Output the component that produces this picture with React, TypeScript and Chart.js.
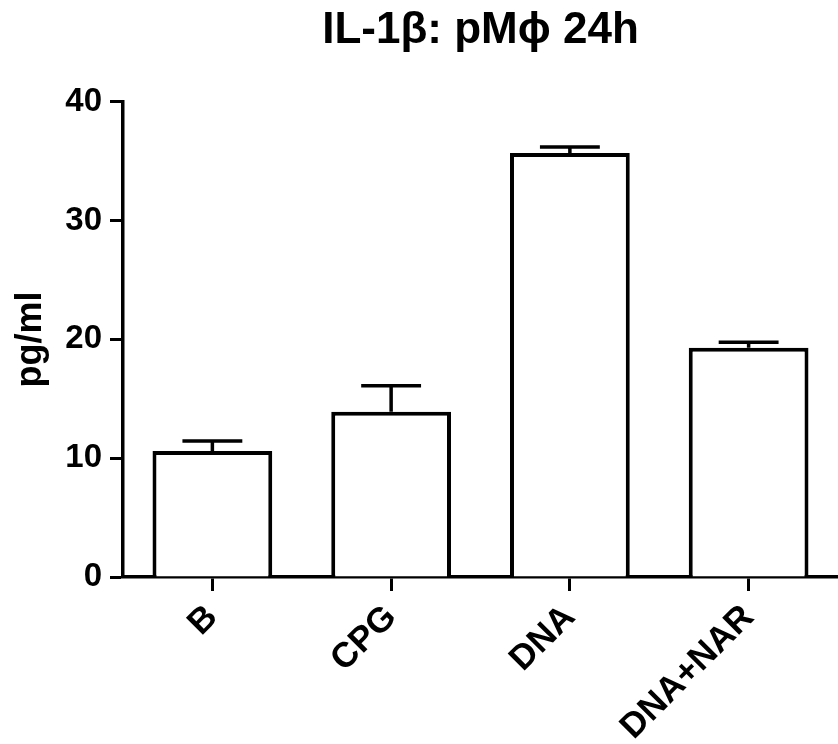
import React, { useEffect, useRef } from "react";
import { Chart, registerables } from "chart.js";

Chart.register(...registerables);

const titleText = "IL-1\u03b2: pM\u03d5 24h";
const yAxisTitle = "pg/ml";
const categories = ["B", "CPG", "DNA", "DNA+NAR"];
const means = [10.6, 13.9, 35.7, 19.3];
const sem = [0.85, 2.2, 0.5, 0.45];
const yTicks = [0, 10, 20, 30, 40];

const FONT = "'Liberation Sans', Arial, Helvetica, sans-serif";

const errorBarPlugin = {
  id: "errorBars",
  afterDatasetsDraw(chart: any) {
    const meta = chart.getDatasetMeta(0);
    const yScale = chart.scales.y;
    const ctx = chart.ctx;
    ctx.save();
    ctx.strokeStyle = "#000";
    ctx.lineWidth = 3.5;
    ctx.lineCap = "butt";
    meta.data.forEach((el: any, i: number) => {
      const x = el.x;
      const yBar = el.y;
      const yTop = yScale.getPixelForValue(means[i] + sem[i]);
      const half = el.width * 0.25;
      ctx.beginPath();
      ctx.moveTo(x, yBar);
      ctx.lineTo(x, yTop);
      ctx.moveTo(x - half, yTop);
      ctx.lineTo(x + half, yTop);
      ctx.stroke();
    });
    ctx.restore();
  },
};

export default function App() {
  const ref = useRef<HTMLCanvasElement | null>(null);
  useEffect(() => {
    if (!ref.current) return;
    const chart = new Chart(ref.current, {
      type: "bar",
      data: {
        labels: categories,
        datasets: [
          {
            data: means,
            backgroundColor: "#ffffff",
            borderColor: "#000000",
            borderWidth: 4,
            categoryPercentage: 1,
            barPercentage: 0.67,
          },
        ],
      },
      options: {
        responsive: false,
        animation: false,
        layout: { padding: { left: 0, right: 0, top: 0, bottom: 0 } },
        plugins: {
          legend: { display: false },
          tooltip: { enabled: false },
          title: {
            display: true,
            text: titleText,
            fullSize: false,
            color: "#000",
            font: { family: FONT, size: 44, weight: "bold" },
            padding: { top: 4, bottom: 45 },
          },
        },
        scales: {
          x: {
            grid: {
              offset: false,
              drawOnChartArea: false,
              drawTicks: true,
              tickLength: 14,
              tickWidth: 3,
              tickColor: "#000",
            },
            border: { color: "#000", width: 3.5 },
            ticks: {
              color: "#000",
              font: { family: FONT, size: 35, weight: "bold" },
              maxRotation: 45,
              minRotation: 45,
              padding: 6,
            },
            afterFit(scale: any) {
              scale.height = 167;
            },
          },
          y: {
            min: 0,
            max: 40,
            afterBuildTicks(scale: any) {
              scale.ticks = yTicks.map((v) => ({ value: v }));
            },
            grid: {
              drawOnChartArea: false,
              drawTicks: true,
              tickLength: 13,
              tickWidth: 3,
              tickColor: "#000",
            },
            border: { color: "#000", width: 3.5 },
            ticks: {
              color: "#000",
              font: { family: FONT, size: 33, weight: "bold" },
              padding: 8,
            },
            title: {
              display: true,
              text: yAxisTitle,
              color: "#000",
              font: { family: FONT, size: 36, weight: "bold" },
              padding: { top: 9, bottom: 0 },
            },
            afterFit(scale: any) {
              scale.width = 123;
            },
          },
        },
      },
      plugins: [errorBarPlugin],
    });
    return () => chart.destroy();
  }, []);
  return (
    <canvas
      ref={ref}
      width={838}
      height={744}
      style={{ position: "absolute", left: 0, top: 0, width: 838, height: 744, background: "#fff" }}
    />
  );
}
